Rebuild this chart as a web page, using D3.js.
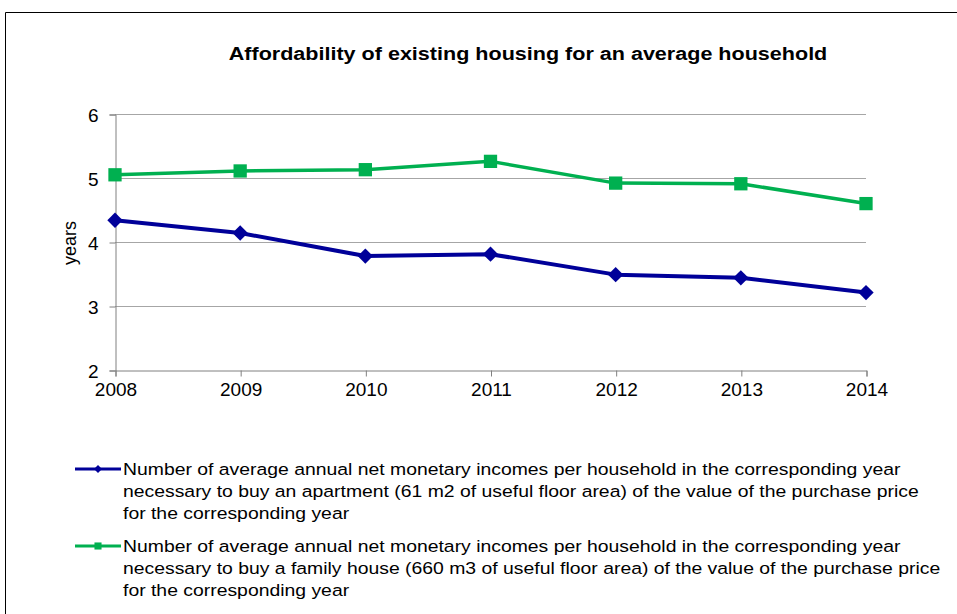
<!DOCTYPE html>
<html>
<head>
<meta charset="utf-8">
<script src="https://cdn.jsdelivr.net/npm/d3@7"></script>
<style>
  body { margin: 0; background: #fff; }
  svg { display: block; font-family: Arial, "Liberation Sans", sans-serif; }
</style>
</head>
<body>
<div id="chart"></div>
<script>
var years = [2008, 2009, 2010, 2011, 2012, 2013, 2014];
var apartment = [4.34, 4.14, 3.78, 3.81, 3.49, 3.44, 3.21];
var house = [5.05, 5.11, 5.13, 5.26, 4.92, 4.91, 4.60];
var yTicks = [2, 3, 4, 5, 6];
var legendApartment = [
  "Number of average annual net monetary incomes per household in the corresponding year",
  "necessary to buy an apartment (61 m2 of useful floor area) of the value of the purchase price",
  "for the corresponding year"
];
var legendHouse = [
  "Number of average annual net monetary incomes per household in the corresponding year",
  "necessary to buy a family house (660 m3 of useful floor area) of the value of the purchase price",
  "for the corresponding year"
];

var w = 957, h = 614;
var plotLeft = 115, plotRight = 866, plotTop = 114, plotBottom = 370;
var stretch = 1.14; // the source picture is a bit wider than it is tall

var svg = d3.select("#chart")
  .append("svg")
  .attr("width", w)
  .attr("height", h);

// outer frame (right and bottom edges run off the picture)
svg.append("path")
  .attr("d", "M5.5," + (h + 2) + "V12.5H" + (w + 2))
  .attr("fill", "none")
  .attr("stroke", "#000")
  .attr("stroke-width", 1);

svg.append("text")
  .attr("transform", "translate(528,60) scale(1.165,1)")
  .attr("text-anchor", "middle")
  .attr("font-size", "18.5px")
  .attr("font-weight", "bold")
  .text("Affordability of existing housing for an average household");

var xScale = d3.scalePoint()
  .domain(years)
  .range([plotLeft, plotRight]);

var yScale = d3.scaleLinear()
  .domain([2, 6])
  .range([plotBottom, plotTop]);

// gridlines
svg.append("g")
  .selectAll("line")
  .data(yTicks.slice(1))
  .enter()
  .append("line")
  .attr("x1", plotLeft)
  .attr("x2", plotRight)
  .attr("y1", function(d) { return Math.round(yScale(d)) + 0.5; })
  .attr("y2", function(d) { return Math.round(yScale(d)) + 0.5; })
  .attr("stroke", "#a6a6a6")
  .attr("stroke-width", 1);

var yAxis = svg.append("g")
  .attr("transform", "translate(" + (plotLeft + 0.5) + ",0.5)")
  .call(d3.axisLeft(yScale).tickValues(yTicks).tickSize(6).tickPadding(11).tickFormat(d3.format("d")));

var xAxis = svg.append("g")
  .attr("transform", "translate(0.5," + (plotBottom + 0.5) + ")")
  .call(d3.axisBottom(xScale).tickSize(6).tickPadding(6));

[yAxis, xAxis].forEach(function(a) {
  a.select(".domain").attr("stroke", "#808080");
  a.selectAll(".tick line").attr("stroke", "#808080");
  a.selectAll(".tick text")
    .attr("fill", "#000")
    .attr("font-size", "19px")
    .attr("font-family", "Arial, 'Liberation Sans', sans-serif");
});
yAxis.selectAll(".tick text").attr("dy", "0.36em");

svg.append("text")
  .attr("transform", "translate(76,243) rotate(-90)")
  .attr("text-anchor", "middle")
  .attr("font-size", "18px")
  .text("years");

var line = d3.line()
  .x(function(d, i) { return xScale(years[i]); })
  .y(function(d) { return yScale(d); });

var diamond = d3.symbol().type(d3.symbolDiamond2);
var square = d3.symbol().type(d3.symbolSquare2);

function drawSeries(values, color, symbol, size, width) {
  svg.append("path")
    .datum(values)
    .attr("d", line)
    .attr("fill", "none")
    .attr("stroke", color)
    .attr("stroke-width", width)
    .attr("stroke-linejoin", "round");

  svg.append("g")
    .selectAll("path")
    .data(values)
    .enter()
    .append("path")
    .attr("d", symbol.size(size))
    .attr("transform", function(d, i) {
      return "translate(" + xScale(years[i]) + "," + yScale(d) + ")";
    })
    .attr("fill", color);
}

drawSeries(house, "#00b050", square, 225, 3.5);
drawSeries(apartment, "#000099", diamond, 150, 4);

function drawLegend(lines, color, symbol, y0) {
  svg.append("line")
    .attr("x1", 75).attr("x2", 121)
    .attr("y1", y0).attr("y2", y0)
    .attr("stroke", color)
    .attr("stroke-width", 3);
  svg.append("path")
    .attr("d", symbol)
    .attr("transform", "translate(98," + y0 + ")")
    .attr("fill", color);
  var t = svg.append("text")
    .attr("transform", "translate(123," + (y0 + 6) + ") scale(" + stretch + ",1)")
    .attr("font-size", "17px")
    .attr("fill", "#000");
  t.selectAll("tspan")
    .data(lines)
    .enter()
    .append("tspan")
    .attr("x", 0)
    .attr("y", function(d, i) { return i * 22; })
    .text(function(d) { return d; });
}

drawLegend(legendApartment, "#000099", diamond.size(40), 469);
drawLegend(legendHouse, "#00b050", square.size(64), 546);
</script>
</body>
</html>
